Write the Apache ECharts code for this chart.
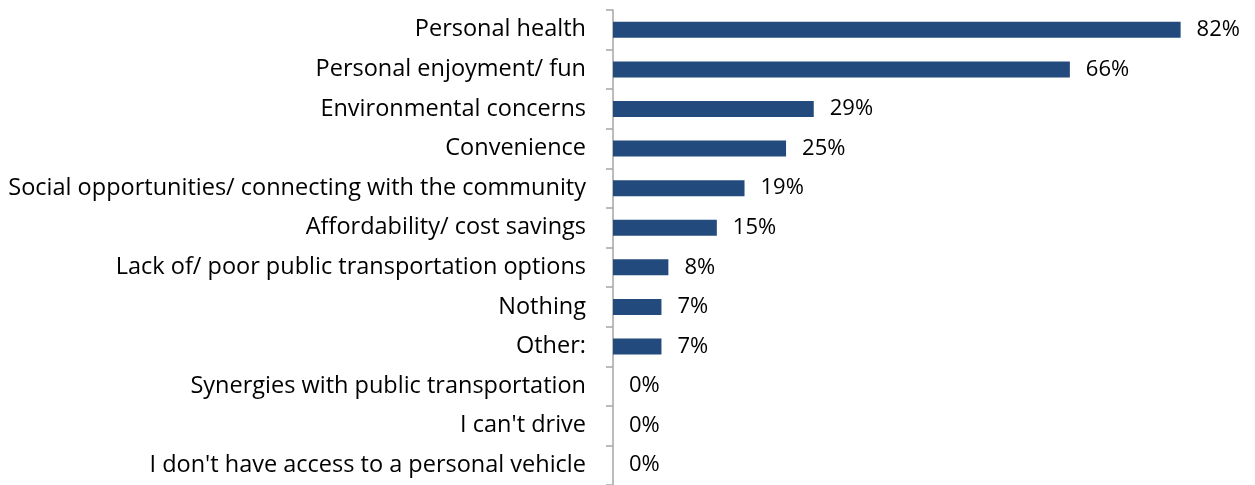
<!DOCTYPE html>
<html><head><meta charset="utf-8">
<script src="https://cdn.jsdelivr.net/npm/echarts@6/dist/echarts.min.js"></script>
<style>html,body{margin:0;padding:0;background:#fff}#c{width:1255px;height:485px}</style>
</head><body><div id="c"></div>
<script>
const categories = ["Personal health","Personal enjoyment/ fun","Environmental concerns","Convenience","Social opportunities/ connecting with the community","Affordability/ cost savings","Lack of/ poor public transportation options","Nothing","Other:","Synergies with public transportation","I can't drive","I don't have access to a personal vehicle"];
const values = [82,66,29,25,19,15,8,7,7,0,0,0];
const chart = echarts.init(document.getElementById('c'));
chart.setOption({
  animation:false,
  grid:{left:613,right:19,top:10,bottom:-1,containLabel:false},
  xAxis:{type:'value',min:0,max:90,show:false},
  yAxis:{type:'category',data:categories,inverse:true,offset:2,
    axisLine:{show:true,lineStyle:{color:'#a6a6a6',width:1.5}},
    axisTick:{show:true,length:7,lineStyle:{color:'#a6a6a6',width:1.5}},
    axisLabel:{margin:25,color:'#000',fontFamily:'Open Sans',fontSize:23.5,padding:[4,0,0,0]}},
  series:[{type:'bar',data:values,barWidth:16,itemStyle:{color:'#234a7d'},
    label:{show:true,position:'right',distance:16,formatter:'{c}%',color:'#000',fontFamily:'Open Sans',fontSize:22,padding:[5,0,0,0]}}]
});
</script></body></html>
